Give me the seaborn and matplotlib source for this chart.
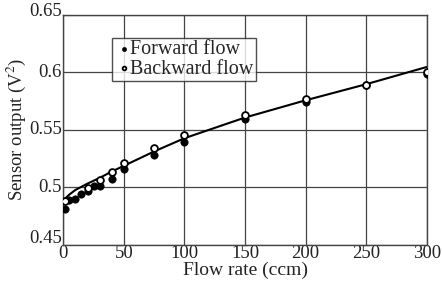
import matplotlib
matplotlib.use("Agg")
import matplotlib.pyplot as plt
import matplotlib.transforms as mtransforms
import seaborn as sns
import pandas as pd
from matplotlib.ticker import FuncFormatter

# Data
fwd_x = [1, 5, 10, 15, 20, 25, 30, 40, 50, 75, 100, 150, 200, 250, 300]
fwd_y = [0.481, 0.4885, 0.490, 0.494, 0.497, 0.5005, 0.501, 0.507, 0.516,
         0.528, 0.5393, 0.559, 0.574, 0.5886, 0.598]
bwd_x = [1, 20, 30, 40, 50, 75, 100, 150, 200, 250, 300]
bwd_y = [0.488, 0.4996, 0.5064, 0.513, 0.521, 0.5343, 0.5451, 0.5628,
         0.5766, 0.589, 0.600]
fit_x = [1, 5, 10, 20, 30, 40, 50, 75, 100, 150, 200, 250, 300]
fit_y = [0.4895, 0.4935, 0.4975, 0.503, 0.508, 0.5135, 0.5185, 0.531,
         0.5425, 0.5605, 0.5755, 0.5895, 0.6045]
x_ticks = [0, 50, 100, 150, 200, 250, 300]
y_ticks = [0.45, 0.5, 0.55, 0.6, 0.65]

sns.set_theme(style="white")
plt.rcParams['font.family'] = ['Liberation Serif', 'DejaVu Serif']
plt.rcParams['mathtext.fontset'] = 'stix'

fig = plt.figure(figsize=(4.42, 2.87), dpi=100)
ax = fig.add_axes([0.1432, 0.148, 0.8222, 0.8008])

df_f = pd.DataFrame({"x": fwd_x, "y": fwd_y})
df_b = pd.DataFrame({"x": bwd_x, "y": bwd_y})
df_c = pd.DataFrame({"x": fit_x, "y": fit_y})

sns.lineplot(data=df_c, x="x", y="y", ax=ax, color="black", lw=1.5, zorder=3)
sns.scatterplot(data=df_f, x="x", y="y", ax=ax, color="black", s=28,
                edgecolor="black", linewidth=0.5, zorder=4, label="Forward flow")
sns.scatterplot(data=df_b, x="x", y="y", ax=ax, facecolor="white", s=24,
                edgecolor="black", linewidth=1.3, zorder=5, label="Backward flow")

ax.set_xlim(0, 300)
ax.set_ylim(0.45, 0.65)
ax.set_xticks(x_ticks)
ax.set_yticks(y_ticks)
ax.yaxis.set_major_formatter(FuncFormatter(lambda v, p: ("%g" % round(v, 3))))
ax.grid(True, color="#444444", lw=0.9)
for s in ax.spines.values():
    s.set_color("#444444")
    s.set_linewidth(1.0)
ax.tick_params(axis="both", length=0, labelsize=13.5, colors="#222222")
ax.tick_params(axis="x", pad=0)
ax.tick_params(axis="y", pad=1)
ylabels = ax.get_yticklabels()
for t in ylabels:
    t.set_verticalalignment("center")
# extreme labels sit a little above their grid lines in the reference
ylabels[0].set_transform(ylabels[0].get_transform() +
                         mtransforms.ScaledTranslation(0, 6 / 100, fig.dpi_scale_trans))
ylabels[-1].set_transform(ylabels[-1].get_transform() +
                          mtransforms.ScaledTranslation(0, 3.5 / 100, fig.dpi_scale_trans))
ax.set_xlabel("Flow rate (ccm)", fontsize=14, labelpad=0, color="#222222")
ax.set_ylabel("Sensor output (V$^2$)", fontsize=13.5, labelpad=1, color="#222222")

leg = ax.legend(loc="upper left", bbox_to_anchor=(0.1348, 0.897), frameon=True,
                fancybox=False, shadow=False, fontsize=14.5, handletextpad=-0.2,
                borderpad=0.1, labelspacing=0.0, handlelength=1.0,
                borderaxespad=0, markerscale=0.55)
leg.get_frame().set_edgecolor("#222222")
leg.get_frame().set_linewidth(1.0)

fig.savefig("out.png", dpi=100)
